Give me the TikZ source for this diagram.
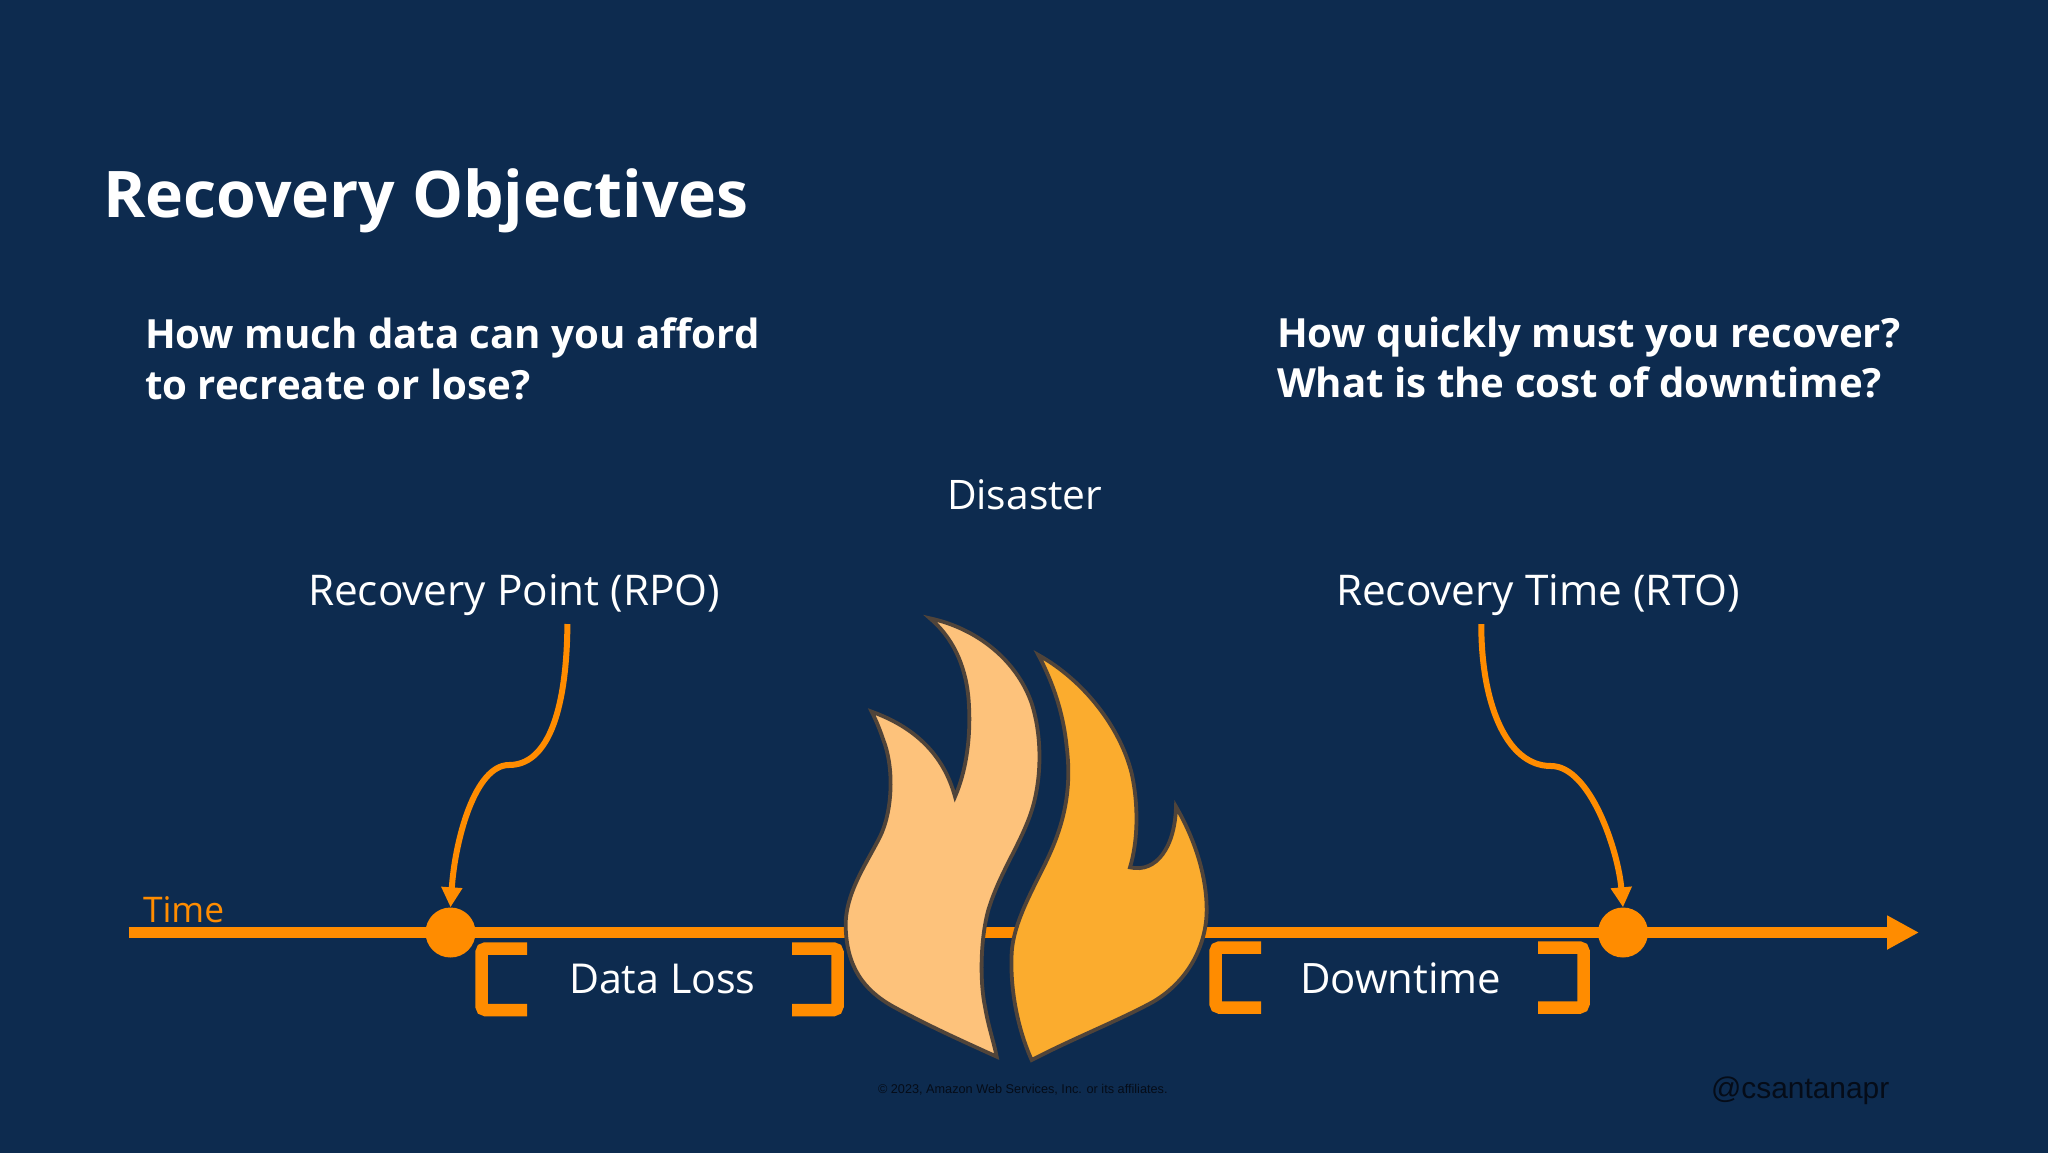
\documentclass[tikz,border=0pt]{standalone}
\usepackage{fontspec}
\setmainfont{Open Sans}
\newfontfamily\arialf{Liberation Sans}
\usetikzlibrary{arrows.meta}
\definecolor{bgblue}{RGB}{13,43,79}
\definecolor{awsorange}{RGB}{255,140,0}
\definecolor{flamelight}{RGB}{253,194,123}
\definecolor{flamedark}{RGB}{251,172,46}
\definecolor{flameedge}{RGB}{80,68,58}
\definecolor{darktext}{RGB}{5,12,24}
\newcommand{\fsz}[1]{\fontsize{#1}{#1}\selectfont}
\tikzset{
  lab/.style={inner sep=0pt,outer sep=0pt,text=white,anchor=base west},
  head/.style={lab,font=\fsz{40.2}\bfseries},
  conn/.style={draw=awsorange,line width=6pt,-{Triangle[length=20pt,width=20pt]}},
  dot/.style={circle,fill=awsorange,minimum size=50pt,inner sep=0pt},
  brack/.style={draw=awsorange,line width=12.5pt,rounded corners=4pt},
  flame/.style={draw=flameedge,line width=3.8pt,line join=miter,miter limit=10},
}
\begin{document}
\begin{tikzpicture}[x=1pt,y=-1pt]
\path[use as bounding box] (0,0) rectangle (2048,1152);
\fill[bgblue] (-5,-5) rectangle (2053,1157);
\node[lab,font=\fsz{64.3}\bfseries] (title) at (103,217) {Recovery Objectives};
\node[head] (q1a) at (145,348) {How much data can you afford};
\node[head] (q1b) at (145,399) {to recreate or lose?};
\node[head] (q2a) at (1277,347) {How quickly must you recover?};
\node[head] (q2b) at (1277,397) {What is the cost of downtime?};
\node[lab,font=\fsz{40.7}] (disaster) at (947,509) {Disaster};
\node[lab,font=\fsz{42.3}] (rpolabel) at (308,605) {Recovery Point (RPO)};
\node[lab,font=\fsz{42.3}] (rtolabel) at (1336,605) {Recovery Time (RTO)};
\node[lab,text=awsorange,font=\fsz{35.3}] (timelabel) at (143,922) {Time};
\node[lab,font=\fsz{41.2}] (dataloss) at (569,993) {Data Loss};
\node[lab,font=\fsz{41.9}] (downtime) at (1300,993) {Downtime};

\coordinate (tstart) at (128.5,932.5);
\coordinate (tend) at (1919,932.5);
\draw[draw=awsorange,line width=11pt,-{Triangle[length=32pt,width=32pt]}] (tstart) -- (tend);
\node[dot] (rpodot) at (450.5,932.5) {};
\node[dot] (rtodot) at (1623,932.5) {};

\coordinate (rpostart) at (567.4,624);
\coordinate (rpomid) at (509,765);
\coordinate (rtostart) at (1481.3,624);
\coordinate (rtomid) at (1551,766);
\draw[conn] (rpostart) .. controls (567,690) and (555,765) .. (rpomid) .. controls (475,765) and (455,840) .. (rpodot.north);
\draw[conn] (rtostart) .. controls (1481,700) and (1505,766) .. (rtomid) .. controls (1590,766) and (1618,850) .. (rtodot.north);

\draw[brack] (527,948.5) -- (481.5,948.5) -- (481.5,1010) -- (527,1010);
\draw[brack] (792,948.5) -- (837.5,948.5) -- (837.5,1010) -- (792,1010);
\draw[brack] (1261,947.5) -- (1215.5,947.5) -- (1215.5,1007.5) -- (1261,1007.5);
\draw[brack] (1538,947.5) -- (1583.5,947.5) -- (1583.5,1007.5) -- (1538,1007.5);

\begin{scope}[shift={(820,590)},x=0.33333pt,y=-0.33333pt]
\draw[flame,fill=flamelight] (330,85)
  .. controls (470,115) and (590,210) .. (635,340)
  .. controls (670,450) and (665,590) .. (625,690)
  .. controls (590,780) and (535,860) .. (505,960)
  .. controls (480,1050) and (480,1180) .. (495,1250)
  .. controls (505,1310) and (520,1350) .. (530,1400)
  .. controls (420,1350) and (320,1305) .. (220,1250)
  .. controls (130,1200) and (80,1130) .. (77,1010)
  .. controls (75,910) and (140,820) .. (180,740)
  .. controls (215,670) and (225,540) .. (190,450)
  .. controls (180,420) and (170,395) .. (155,365)
  .. controls (280,410) and (370,490) .. (405,620)
  .. controls (440,540) and (455,430) .. (445,320)
  .. controls (435,220) and (395,140) .. (330,85) -- cycle;
\draw[flame,fill=flamedark] (655,195)
  .. controls (790,270) and (900,410) .. (935,550)
  .. controls (955,640) and (955,750) .. (930,832)
  .. controls (1010,850) and (1065,770) .. (1068,650)
  .. controls (1120,740) and (1160,850) .. (1160,960)
  .. controls (1160,1060) and (1110,1170) .. (1000,1235)
  .. controls (900,1290) and (760,1345) .. (635,1410)
  .. controls (590,1310) and (570,1190) .. (575,1090)
  .. controls (580,990) and (650,880) .. (690,790)
  .. controls (735,690) and (755,590) .. (740,470)
  .. controls (730,370) and (700,280) .. (655,195) -- cycle;
\end{scope}

\node[lab,text=darktext,font=\fsz{12.7}\arialf] (copyright) at (878,1093) {© 2023, Amazon Web Services, Inc. or its affiliates.};
\node[lab,text=darktext,font=\fsz{29.9}\arialf] (handle) at (1711,1098) {@csantanapr};
\end{tikzpicture}
\end{document}
